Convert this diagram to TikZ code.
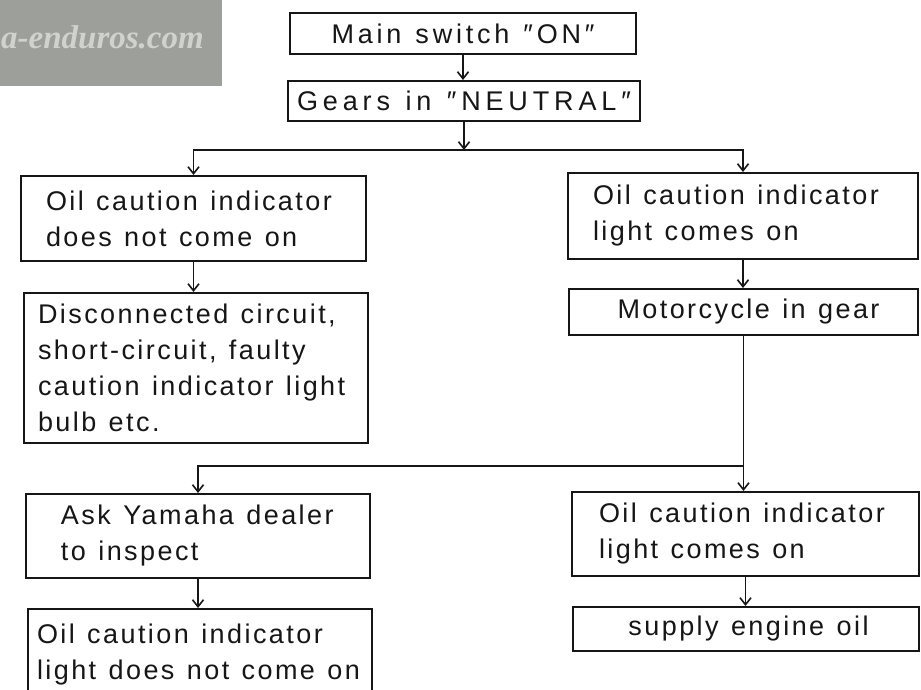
\documentclass[tikz,border=0pt]{standalone}
\usepackage{fontspec}
\setmainfont{Liberation Sans}
\newfontfamily\boxfont[LetterSpace=9,WordSpace=1.25]{Liberation Sans}
\newfontfamily\wmfont{Liberation Serif}
\usetikzlibrary{arrows.meta,calc}
\definecolor{ink}{RGB}{22,22,22}
\definecolor{wmgray}{RGB}{156,159,154}
\definecolor{wmtext}{RGB}{208,210,205}
\newcommand\bxt[3]{\hspace*{#1}\begin{minipage}{\dimexpr#2+40pt\relax}\raggedright #3\end{minipage}\hspace*{-40pt}}
\newcommand\bxc[2]{\begin{minipage}{#1}\centering #2\end{minipage}}
\begin{document}
\begin{tikzpicture}[x=1pt,y=-1pt,
  base/.style={draw=ink, line width=2pt, anchor=north west, inner xsep=0pt, inner ysep=0pt,
    font=\boxfont\fontsize{27}{36}\selectfont, text=ink},
  lbox/.style={base},
  cbox/.style={base},
  ln/.style={draw=ink, line width=1.8pt},
  arr/.style={ln, -{Straight Barb[length=7pt,width=11pt,line width=1.6pt]}}]
\useasboundingbox (0,0) rectangle (921,689);
\clip (0,0) rectangle (921,689);
\fill[white] (0,0) rectangle (921,689);
% watermark
\fill[wmgray] (0,0) rectangle (222,86);
\node[anchor=west, inner sep=0pt, text=wmtext, font=\wmfont\bfseries\itshape\fontsize{33}{36}\selectfont] (wm) at (1,37) {a-enduros.com};
% boxes
\node[cbox, minimum height=41pt] (main) at (289,12) {\bxc{346pt}{\addfontfeature{LetterSpace=14}Main switch ″ON″}};
\node[cbox, minimum height=40pt] (gears) at (287,80) {\bxc{352pt}{\addfontfeature{LetterSpace=18}Gears in ″NEUTRAL″}};
\node[lbox, minimum height=85pt] (l1) at (20,175) {\bxt{25pt}{320pt}{Oil caution indicator\\does not come on}};
\node[lbox, minimum height=150pt] (l2) at (23,292) {\bxt{14pt}{330pt}{Disconnected circuit,\\short-circuit, faulty\\caution indicator light\\bulb etc.}};
\node[lbox, minimum height=86pt] (r1) at (567,172) {\bxt{25pt}{325pt}{Oil caution indicator\\light comes on}};
\node[cbox, minimum height=46pt] (r2) at (568,288) {\bxc{349pt}{\hspace*{10pt}Motorcycle in gear}};
\node[lbox, minimum height=84pt] (l3) at (25,493) {\bxt{35pt}{309pt}{Ask Yamaha dealer\\to inspect}};
\node[lbox, inner ysep=15pt, text depth=70pt] (l4) at (27,608) {\bxt{9pt}{335pt}{Oil caution indicator\\light does not come on}};
\node[lbox, minimum height=84pt] (r3) at (571,491) {\bxt{27pt}{320pt}{Oil caution indicator\\light comes on}};
\node[cbox, minimum height=44pt] (r4) at (572,606) {\bxc{346pt}{\hspace*{5pt}supply engine oil}};
% connectors
\coordinate (s1) at ($(gears.south)+(0,28)$);
\coordinate (s2) at ($(r2.south)+(0,130)$);
\draw[arr] (main.south) -- (main.south |- gears.north);
\draw[arr] (gears.south) -- (s1);
\draw[arr] (s1) -| (l1.north);
\draw[arr] (s1) -| (r1.north);
\draw[arr] (l1.south) -- (l1.south |- l2.north);
\draw[arr] (r1.south) -- (r1.south |- r2.north);
\draw[ln] (r2.south) -- (s2);
\draw[arr] (s2) -- (s2 |- r3.north);
\draw[arr] (s2) -| (l3.north);
\draw[arr] (l3.south) -- (l3.south |- l4.north);
\draw[arr] (r3.south) -- (r3.south |- r4.north);
\end{tikzpicture}
\end{document}
